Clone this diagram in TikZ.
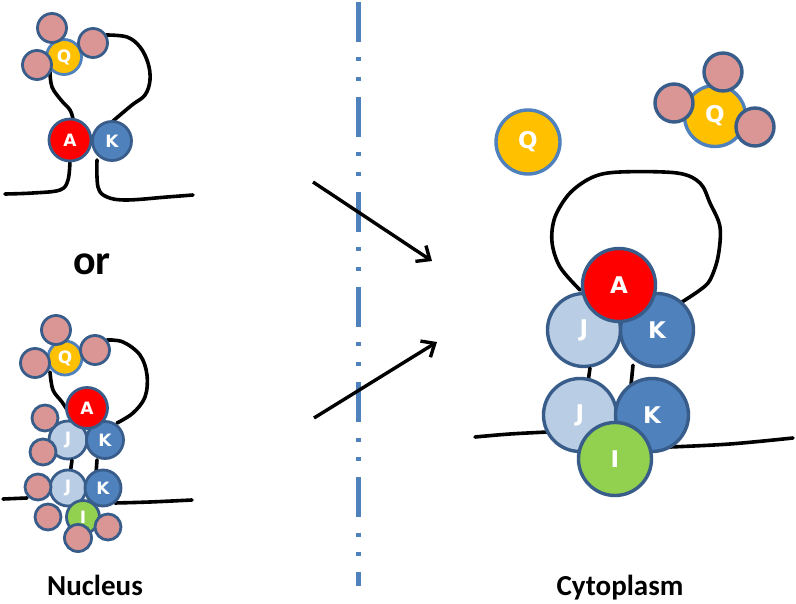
\documentclass[tikz,border=0pt]{standalone}
\usepackage{fontspec}
\setmainfont{Carlito}
\newfontfamily\letfont{DejaVu Sans}
\usetikzlibrary{arrows.meta}
\definecolor{edgeblue}{HTML}{385D8A}
\definecolor{qedge}{HTML}{4F81BD}
\definecolor{kblue}{HTML}{4F81BD}
\definecolor{jblue}{HTML}{B9CDE5}
\definecolor{ared}{HTML}{FF0000}
\definecolor{igreen}{HTML}{92D050}
\definecolor{qyellow}{HTML}{FFC000}
\definecolor{pinkfill}{HTML}{D99694}
\definecolor{dashblue}{HTML}{4F81BD}
\tikzset{
  smallc/.style={circle, inner sep=0pt, draw=edgeblue, line width=2.8pt, text=white,
    font=\letfont\bfseries\fontsize{17}{17}\selectfont},
  bigc/.style={circle, inner sep=0pt, draw=edgeblue, line width=3.4pt, text=white,
    font=\letfont\bfseries\fontsize{23}{23}\selectfont},
  pinkball/.style={smallc, fill=pinkfill},
  abox/.style={fill=ared},
  kbox/.style={fill=kblue},
  jbox/.style={fill=jblue},
  ibox/.style={fill=igreen},
  qbox/.style={fill=qyellow, draw=qedge},
  strand/.style={line width=3.6pt, black, line cap=round, line join=round},
  movearrow/.style={line width=3.4pt, black, -{Straight Barb[length=11pt,width=19pt,line width=3.4pt]}},
  sep/.style={line width=5pt, dashblue, dash pattern=on 40pt off 15.5pt on 4pt off 15.5pt on 4pt off 16pt},
  label/.style={font=\bfseries\fontsize{29}{29}\selectfont, anchor=base, inner sep=0pt}
}
\begin{document}
\begin{tikzpicture}[x=1pt,y=-1pt]
\useasboundingbox[fill=white] (0,0) rectangle (796,604);

% ---------- separator ----------
\coordinate (septop) at (358,2);
\coordinate (sepbot) at (358,586);
\draw[sep] (septop) -- (sepbot);

% ---------- top-left group ----------
\draw[strand] plot[smooth, tension=0.6] coordinates {(50,72) (52,87) (61,100) (70,110) (73,119)};
\draw[strand] plot[smooth, tension=0.6] coordinates {(106,35) (127,37) (140,47) (148,63) (150,80) (145,95) (132,105) (113,121)};
\draw[strand] plot[smooth, tension=0.6] coordinates {(70,160) (68,180) (60,190) (33,193) (5,194)};
\draw[strand] plot[smooth, tension=0.6] coordinates {(97,160) (98,187) (107,197) (127,200) (167,197) (193,195)};
\node[smallc, kbox, minimum size=39pt] (tlK) at (112,141) {K};
\node[smallc, abox, minimum size=42pt] (tlA) at (70,140) {A};
\node[smallc, qbox, minimum size=35pt] (tlQ) at (64,57) {Q};
\node[pinkball, minimum size=29pt] (tlP1) at (52,28) {};
\node[pinkball, minimum size=29pt] (tlP2) at (93,43) {};
\node[pinkball, minimum size=29pt] (tlP3) at (37,65) {};

\node[label, font=\bfseries\fontsize{42}{42}\selectfont] (ortext) at (92,275) {or};

% ---------- bottom-left group ----------
\draw[strand] plot[smooth, tension=0.6] coordinates {(50,372) (53,390) (62,402) (70,414)};
\draw[strand] plot[smooth, tension=0.6] coordinates {(107,340) (123,342) (140,355) (147,375) (145,397) (133,413) (117,423)};
\draw[strand] plot[smooth, tension=0.6] coordinates {(3,499) (27,498)};
\draw[strand] plot[smooth, tension=0.6] coordinates {(115,503) (150,502) (192,500)};
\node[smallc, qbox, minimum size=34pt] (blQ) at (65,358) {Q};
\node[pinkball, minimum size=29pt] (blP1) at (56,330) {};
\node[pinkball, minimum size=29pt] (blP2) at (95,350) {};
\node[pinkball, minimum size=29pt] (blP3) at (35,363) {};
\node[smallc, jbox, minimum size=38pt] (blJ1) at (68,440) {J};
\node[smallc, kbox, minimum size=37pt] (blK1) at (105,440) {K};
\node[smallc, abox, minimum size=41pt] (blA) at (87,408) {A};
\draw[strand] (blJ1.south) ++(4,0) coordinate (bljs) -- ++(-2,14) coordinate (blje);
\draw[strand] (blK1.south) ++(-8,0) coordinate (blks) -- ++(-1,14) coordinate (blke);
\node[pinkball, minimum size=26pt] (blP4) at (45,418) {};
\node[pinkball, minimum size=26pt] (blP5) at (43,452) {};
\node[smallc, jbox, minimum size=36pt] (blJ2) at (68,488) {J};
\node[smallc, kbox, minimum size=36pt] (blK2) at (103,488) {K};
\node[smallc, ibox, minimum size=33pt] (blI) at (83,517) {I};
\node[pinkball, minimum size=26pt] (blP6) at (38,487) {};
\node[pinkball, minimum size=26pt] (blP7) at (48,517) {};
\node[pinkball, minimum size=26pt] (blP8) at (108,527) {};
\node[pinkball, minimum size=27pt] (blP9) at (78,538) {};

\node[label] (nucleus) at (95,595) {Nucleus};

% ---------- arrows ----------
\coordinate (a1s) at (313,182);
\coordinate (a1e) at (432,261);
\coordinate (a2s) at (314,418);
\coordinate (a2e) at (437,342);
\draw[movearrow] (a1s) -- (a1e);
\draw[movearrow] (a2s) -- (a2e);

% ---------- right group ----------
\node[bigc, qbox, minimum size=64pt] (rQ1) at (528,142) {Q};
\node[bigc, qbox, minimum size=61pt] (rQ2) at (715,116) {Q};
\node[bigc, fill=pinkfill, minimum size=38pt] (rP1) at (723,72) {};
\node[bigc, fill=pinkfill, minimum size=38pt] (rP2) at (674,103) {};
\node[bigc, fill=pinkfill, minimum size=38pt] (rP3) at (755,127) {};

\draw[strand] plot[smooth, tension=0.55] coordinates {(580,290) (560,267) (552,242) (555,217) (570,193) (593,177) (620,172) (677,173) (700,183) (710,203) (720,227) (718,257) (710,280) (700,290) (682,302)};
\draw[strand] plot[smooth, tension=0.6] coordinates {(475,437) (510,434) (548,432)};
\draw[strand] plot[smooth, tension=0.6] coordinates {(670,447) (730,444) (793,438)};
\node[bigc, jbox, minimum size=73pt] (rJ1) at (584,330) {J};
\node[bigc, kbox, minimum size=73pt] (rK1) at (657,330) {K};
\node[bigc, abox, minimum size=73pt] (rA) at (619,285) {A};
\draw[strand] (rJ1.south) ++(6,0) coordinate (rjs) -- ++(-2,14) coordinate (rje);
\draw[strand] (rK1.south) ++(-24,-3) coordinate (rks) -- ++(-2,20) coordinate (rke);
\node[bigc, jbox, minimum size=73pt] (rJ2) at (580,415) {J};
\node[bigc, kbox, minimum size=73pt] (rK2) at (652,415) {K};
\node[bigc, ibox, minimum size=73pt] (rI) at (615,459) {I};

\node[label] (cyto) at (620,595) {Cytoplasm};
\end{tikzpicture}
\end{document}
